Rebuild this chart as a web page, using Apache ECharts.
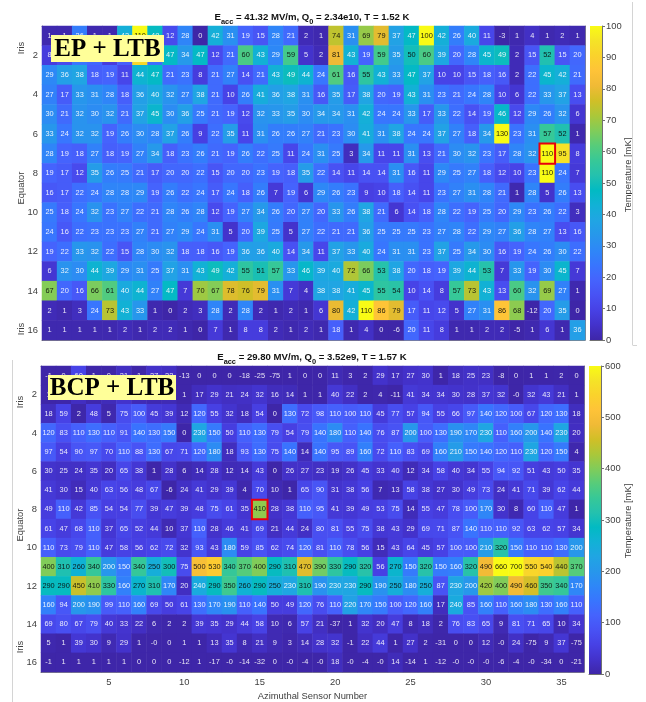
<!DOCTYPE html>
<html><head><meta charset="utf-8">
<style>html,body{margin:0;padding:0;background:#fff}#c{width:646px;height:702px}</style>
<script src="https://cdn.jsdelivr.net/npm/echarts@6/dist/echarts.min.js"></script>
</head><body><div id="c"></div>
<script>
const sensors = Array.from({length:36},(_,i)=>String(i+1));
const stations = Array.from({length:16},(_,i)=>String(i+1));
const epValues = [
[1,1,26,1,1,42,110,48,12,28,0,42,31,19,15,28,21,2,1,74,31,69,79,37,47,100,42,26,40,11,-3,1,4,1,2,1],
[8,12,24,20,8,18,92,22,47,34,47,12,21,60,43,29,59,5,2,81,43,19,59,35,50,60,39,20,28,45,49,2,15,52,15,20],
[29,36,38,18,19,11,44,47,21,23,8,21,27,14,21,43,49,44,24,61,16,55,43,33,47,37,10,10,15,18,16,2,22,45,42,21],
[27,17,33,31,28,18,36,40,32,27,38,21,10,26,41,36,38,31,16,35,17,38,20,19,43,31,23,21,24,28,10,6,22,33,37,13],
[30,21,32,30,32,21,37,45,30,36,25,21,19,12,32,33,35,30,34,34,31,42,24,24,33,17,33,22,14,19,46,12,29,26,32,6],
[33,24,32,32,19,26,30,28,37,26,9,22,35,11,31,26,26,27,21,23,30,41,31,38,24,24,37,27,18,34,130,23,31,57,52,1],
[28,19,18,27,18,19,27,34,18,23,26,21,19,26,22,25,11,24,31,25,3,34,11,11,31,13,21,30,32,23,17,28,32,110,95,8],
[19,17,12,35,26,25,21,17,20,20,22,15,20,20,23,19,18,35,22,14,11,14,14,31,16,11,29,25,27,18,12,10,23,110,24,7],
[16,17,22,24,28,28,29,19,26,22,24,17,24,18,26,7,19,6,29,26,23,9,10,18,14,11,23,27,31,28,21,1,28,5,26,13],
[25,18,24,32,23,27,22,21,28,26,28,12,19,27,34,26,20,27,20,33,26,38,21,6,14,18,28,22,19,25,20,29,23,26,22,3],
[24,16,22,23,23,23,27,21,27,29,24,31,5,20,39,25,5,27,22,21,21,36,25,25,25,23,27,28,22,29,27,36,28,27,13,16],
[19,22,33,32,22,15,28,30,32,18,18,16,19,36,36,40,14,34,11,37,33,40,24,31,31,23,37,25,34,30,16,19,24,26,30,22],
[6,32,30,44,39,29,31,25,37,31,43,49,42,55,51,57,33,46,39,40,72,66,53,38,20,18,19,39,44,53,7,33,19,30,45,7],
[67,20,16,66,61,40,44,27,47,7,70,67,78,76,79,31,7,4,38,38,41,45,55,54,10,14,8,57,73,43,13,60,32,69,27,1],
[2,1,3,24,73,43,33,1,0,2,3,28,2,28,2,1,2,1,6,80,42,110,86,79,17,11,12,5,27,31,86,68,-12,20,35,0],
[1,1,1,1,1,2,1,2,2,1,0,7,1,8,8,2,1,2,1,18,1,4,0,-6,20,11,8,1,1,2,2,-5,1,6,1,36]
];
const bcpValues = [
[-1,0,60,1,0,21,1,27,22,-13,0,0,0,-18,-25,-75,1,0,0,11,3,2,29,17,27,30,1,18,25,23,-8,0,1,1,2,0],
[1,2,20,5,14,30,12,8,11,1,17,29,21,24,32,16,14,1,1,40,22,2,4,-11,41,34,34,30,28,37,32,-0,32,43,21,1],
[18,59,2,48,5,75,100,45,39,12,120,55,32,18,54,0,130,72,98,110,100,110,45,77,57,94,55,66,97,140,120,100,67,120,130,18],
[120,83,110,130,110,91,140,130,150,0,230,150,50,110,130,79,54,79,140,180,110,140,76,87,200,100,130,190,170,230,110,160,200,140,230,20],
[97,54,90,97,70,110,88,130,67,71,120,180,18,93,130,75,140,14,140,95,89,160,72,110,83,69,160,210,150,140,120,110,230,120,150,4],
[30,25,24,35,20,65,38,1,28,6,14,28,12,14,43,0,26,27,23,19,26,45,33,40,12,34,58,40,34,55,94,92,51,43,50,35],
[41,30,15,40,63,56,48,67,-6,24,41,29,39,4,70,10,1,65,90,31,38,56,7,13,58,38,27,30,49,73,24,41,71,39,62,44],
[49,110,42,85,54,54,77,39,47,39,48,75,61,35,410,28,38,110,95,41,39,49,53,75,14,55,47,78,100,170,30,8,60,110,47,1],
[61,47,68,110,37,65,52,44,10,37,110,28,46,41,69,21,44,24,80,81,55,75,38,43,29,69,71,87,140,110,110,92,63,62,57,34],
[110,73,79,110,47,58,56,62,72,32,93,43,180,59,85,62,74,120,81,110,78,56,15,43,64,45,57,100,100,210,320,150,110,110,130,200],
[400,310,260,340,200,150,340,250,300,75,500,530,340,370,400,290,310,470,390,330,290,320,56,270,150,320,150,160,320,490,660,700,550,540,440,370],
[290,290,450,410,330,160,270,310,170,20,240,290,350,260,290,250,230,310,190,230,230,290,190,250,180,250,87,230,200,420,400,490,460,350,340,170],
[160,94,200,190,99,110,160,69,50,61,130,170,190,110,140,50,49,120,76,110,220,170,150,100,120,160,17,240,85,160,110,160,180,130,160,110],
[69,80,67,79,40,33,22,6,2,2,39,35,29,44,58,10,6,57,21,-37,1,32,20,47,8,18,2,76,83,65,9,81,71,65,10,34],
[5,1,39,30,9,29,1,-0,0,1,1,13,35,8,21,9,3,14,28,32,-1,22,44,1,27,2,-31,0,0,12,-0,24,-75,9,37,-75],
[-1,1,1,1,1,1,0,0,0,-12,1,-17,-0,-14,-32,0,-0,-4,-0,18,-0,-4,-0,14,-14,1,-12,-0,-0,-0,-6,-4,-0,-34,0,-21]
];
const epTitle = ['41.32 MV/m','2.34e10','1.52 K'];
const bcpTitle = ['29.80 MV/m','3.52e9','1.57 K'];
const epRange = [0,100], bcpRange = [0,600];
const epPeak = [33,6], bcpPeak = [14,7];
const epDarkFrom = 50, bcpDarkFrom = 245;

const parula = [[.2422,.1504,.6603],[.2647,.1978,.7952],[.2783,.2559,.8991],[.2810,.3228,.9579],[.2699,.3892,.9906],[.2206,.4603,.9973],[.1786,.5289,.9682],[.1540,.5902,.9218],[.1248,.6459,.8883],[.0689,.6948,.8394],[.0067,.7312,.7660],[.1408,.7584,.6842],[.2161,.7843,.5923],[.3406,.8008,.4789],[.5044,.7993,.3480],[.6720,.7793,.2227],[.8203,.7498,.1535],[.9393,.7288,.2100],[.9970,.7659,.2199],[.9786,.8247,.1720],[.9610,.8890,.1537],[.9769,.9839,.0805]]
  .map(c=>'rgb('+c.map(v=>Math.round(v*255)).join(',')+')');

const SANS = '"Liberation Sans",Arial,sans-serif', INK = '#404040', FRAME = 'rgba(50,50,60,0.6)', LABEL = 9.4;
const even = (i,v)=>Number(v)%2===0;
const five = (i,v)=>Number(v)%5===0;

function cells(rows, range, peak, darkFrom){
  const out = [], last = [];
  rows.forEach((row,r)=>row.forEach((v,c)=>{
    const clip = Math.max(range[0],Math.min(range[1],v));
    const it = {value:[c,r,v,clip], label:{color: v>=darkFrom ? 'rgba(10,10,10,0.9)' : 'rgba(255,255,255,0.88)'}};
    if(c===peak[0] && r===peak[1]){ it.itemStyle={borderColor:'#e8000c',borderWidth:2}; last.push(it);} else out.push(it);
  }));
  return out.concat(last);
}
const heat = (g,rows,range,peak,dark)=>({
  type:'heatmap', xAxisIndex:g, yAxisIndex:g, data:cells(rows,range,peak,dark), silent:true, progressive:0,
  encode:{x:0,y:1}, emphasis:{disabled:true},
  label:{show:true, fontSize:7.4, fontFamily:SANS,
    formatter:p=>Object.is(p.value[2],-0)?'-0':String(p.value[2])}
});
const gridXY = (g)=>[
  {type:'category',gridIndex:g,data:sensors,position:'bottom',
   axisLine:{show:true,onZero:false,lineStyle:{color:FRAME}},
   axisTick:{show:true,inside:true,length:5,alignWithLabel:true,interval:five,lineStyle:{color:FRAME}},
   axisLabel:{show:g===1,interval:five,fontSize:LABEL,color:INK,fontFamily:SANS,margin:6},
   splitLine:{show:false},
   ...(g===1?{name:'Azimuthal Sensor Number',nameLocation:'middle',nameGap:20,nameTextStyle:{fontSize:LABEL,color:INK,fontFamily:SANS}}:{})},
  {type:'category',gridIndex:g,data:sensors,position:'top',
   axisLine:{show:true,onZero:false,lineStyle:{color:FRAME}},
   axisTick:{show:true,inside:true,length:5,alignWithLabel:true,interval:five,lineStyle:{color:FRAME}},
   axisLabel:{show:false},splitLine:{show:false}}
];
const gridY = (g)=>[
  {type:'category',gridIndex:g,data:stations,inverse:true,position:'left',
   axisLine:{show:true,onZero:false,lineStyle:{color:FRAME}},
   axisTick:{show:true,inside:true,length:5,alignWithLabel:true,interval:even,lineStyle:{color:FRAME}},
   axisLabel:{show:true,interval:even,fontSize:LABEL,color:INK,fontFamily:SANS,margin:4},splitLine:{show:false}},
  {type:'category',gridIndex:g,data:stations,inverse:true,position:'right',
   axisLine:{show:true,onZero:false,lineStyle:{color:FRAME}},
   axisTick:{show:true,inside:true,length:5,alignWithLabel:true,interval:even,lineStyle:{color:FRAME}},
   axisLabel:{show:false},splitLine:{show:false}}
];
const barGrad = new echarts.graphic.LinearGradient(0,1,0,0,parula.map((c,i)=>({offset:i/(parula.length-1),color:c})));
const barX = g=>({type:'category',gridIndex:g,data:['T'],axisLabel:{show:false},axisTick:{show:false},axisLine:{show:true,lineStyle:{color:'#707070'}}});
const barY = (g,range,step)=>({type:'value',gridIndex:g,min:range[0],max:range[1],interval:step,position:'right',
  axisLine:{show:true,lineStyle:{color:'#707070'}},axisTick:{show:true,length:3,lineStyle:{color:'#707070'}},
  axisLabel:{fontSize:LABEL,color:INK,fontFamily:SANS,margin:4},splitLine:{show:false}});
const barS = (g,range)=>({type:'bar',xAxisIndex:g,yAxisIndex:g,data:[range[1]],barWidth:'100%',silent:true,
  itemStyle:{color:barGrad},emphasis:{disabled:true}});

const titleRich = {
  b:{fontSize:9.6,fontWeight:'bold',color:'#111',fontFamily:SANS,lineHeight:14},
  s:{fontSize:7.4,fontWeight:'bold',color:'#111',fontFamily:SANS,lineHeight:8,padding:[9,0,0,0]}
};
const titleText = t=>`{b|E}{s|acc}{b| = ${t[0]}, Q}{s|0}{b| = ${t[1]}, T = ${t[2]}}`;
const mkTitle = (t,y)=>({text:titleText(t),left:307,top:y,textAlign:'center',textStyle:{rich:titleRich,fontSize:9.6}});

const rotText = (s,x,y)=>({type:'text',x:x,y:y,rotation:Math.PI/2,silent:true,
  style:{text:s,fontSize:LABEL,fill:INK,fontFamily:SANS,align:'center',verticalAlign:'middle'}});
const badge = (s,x,y,w,h)=>({type:'group',silent:true,z:100,children:[
  {type:'rect',shape:{x:x,y:y,width:w,height:h},style:{fill:'#ffff99'},z:100},
  {type:'text',x:x+w/2,y:y+h/2+1,z:101,style:{text:s,fontSize:25,fontWeight:'bold',fontFamily:'"Liberation Serif",serif',fill:'#000',align:'center',verticalAlign:'middle'}}
]});
const rule = (x1,y1,x2,y2)=>({type:'line',silent:true,shape:{x1,y1,x2,y2},style:{stroke:'#d4d4d4',lineWidth:1}});

const option = {
  animation:false,
  backgroundColor:'#fff',
  title:[mkTitle(epTitle,5),mkTitle(bcpTitle,345)],
  grid:[
    {left:42,top:26,width:543,height:314},
    {left:41,top:366,width:543,height:308},
    {left:590,top:26,width:12,height:314},
    {left:589,top:366,width:12,height:308}
  ],
  // x axes: grid0 bottom, grid0 top, grid1 bottom, grid1 top, colorbar0, colorbar1
  xAxis:[...gridXY(0),...gridXY(1),barX(2),barX(3)],
  yAxis:[gridY(0)[0],gridY(0)[1],gridY(1)[0],gridY(1)[1],barY(2,epRange,10),barY(3,bcpRange,100)],
  visualMap:[
    {show:false,type:'continuous',seriesIndex:0,dimension:3,min:epRange[0],max:epRange[1],inRange:{color:parula}},
    {show:false,type:'continuous',seriesIndex:1,dimension:3,min:bcpRange[0],max:bcpRange[1],inRange:{color:parula}}
  ],
  series:[
    heat(0,epValues,epRange,epPeak,epDarkFrom),
    heat(2,bcpValues,bcpRange,bcpPeak,bcpDarkFrom),
    barS(4,epRange),
    barS(5,bcpRange)
  ],
  graphic:[
    rotText('Iris',21,48),rotText('Equator',21,188),rotText('Iris',21,329),
    rotText('Iris',20,402),rotText('Equator',20,525),rotText('Iris',20,647),
    rotText('Temperature [mK]',628,175),rotText('Temperature [mK]',628,521),
    badge('EP + LTB',51,35,113,27),
    badge('BCP + LTB',48,375,128,25),
    rule(632.5,2,632.5,345),rule(632.5,345.5,637,345.5),rule(12.5,360,12.5,702)
  ]
};
const chart = echarts.init(document.getElementById('c'),null,{renderer:'canvas'});
chart.setOption(option);
</script></body></html>
